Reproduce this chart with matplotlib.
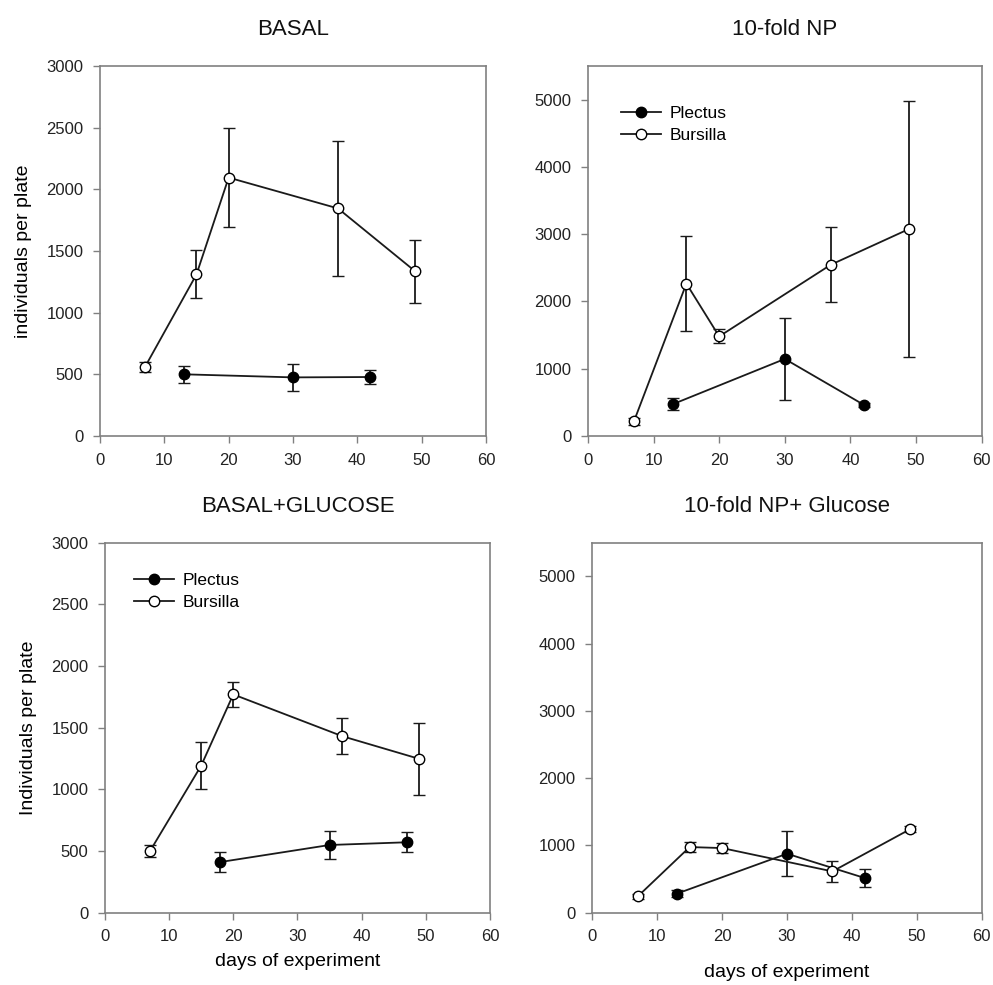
import matplotlib
matplotlib.use("Agg")
import matplotlib.pyplot as plt

plt.rcParams['font.family'] = ['Liberation Sans', 'DejaVu Sans']

# sampling days
days_bursilla = [7, 15, 20, 37, 49]
days_plectus = [13, 30, 42]
days_plectus_glu = [18, 35, 47]

# BASAL
basal_burs = [560, 1310, 2095, 1845, 1335]
basal_burs_err = [40, 195, 400, 545, 255]
basal_plec = [500, 475, 478]
basal_plec_err = [70, 107, 55]

# 10-fold NP
np_burs = [215, 2265, 1480, 2545, 3080]
np_burs_err = [50, 710, 105, 560, 1900]
np_plec = [475, 1145, 465]
np_plec_err = [90, 605, 30]

# BASAL+GLUCOSE
glu_burs = [498, 1193, 1770, 1431, 1247]
glu_burs_err = [50, 190, 100, 145, 295]
glu_plec = [411, 549, 571]
glu_plec_err = [80, 115, 80]

# 10-fold NP+ Glucose
npglu_burs = [242, 976, 961, 614, 1243]
npglu_burs_err = [40, 75, 80, 155, 40]
npglu_plec = [282, 877, 515]
npglu_plec_err = [50, 335, 135]

spine_col = '#808080'
line_col = '#1a1a1a'


def panel(ax, title, xp, yp, ep, xb, yb, eb, ymax, ystep):
    ax.errorbar(xp, yp, yerr=ep, color=line_col, lw=1.3, marker='o', ms=7.5,
                mfc='black', mec='black', mew=1, capsize=4.5, elinewidth=1.3,
                capthick=1.3, label='Plectus', zorder=3)
    ax.errorbar(xb, yb, yerr=eb, color=line_col, lw=1.3, marker='o', ms=7.5,
                mfc='white', mec='black', mew=1, capsize=4.5, elinewidth=1.3,
                capthick=1.3, label='Bursilla', zorder=3)
    ax.set_xlim(0, 60)
    ax.set_ylim(0, ymax)
    ax.set_xticks(range(0, 61, 10))
    ax.set_yticks(range(0, int(ymax) + 1, ystep))
    for s in ax.spines.values():
        s.set_color(spine_col)
        s.set_linewidth(1.2)
    ax.tick_params(direction='out', length=5, width=1, color=spine_col,
                   labelsize=12, labelcolor='#222222', pad=7)
    ax.set_title(title, fontsize=16, pad=22, color='#111111')


fig = plt.figure(figsize=(9.93, 9.85), dpi=100)
ax1 = fig.add_axes([0.1007, 0.5574, 0.3887, 0.3756])
ax2 = fig.add_axes([0.5921, 0.5574, 0.3965, 0.3756])
ax3 = fig.add_axes([0.1057, 0.0734, 0.3877, 0.3756])
ax4 = fig.add_axes([0.5965, 0.0734, 0.3921, 0.3756])

panel(ax1, 'BASAL', days_plectus, basal_plec, basal_plec_err,
      days_bursilla, basal_burs, basal_burs_err, 3000, 500)
panel(ax2, '10-fold NP', days_plectus, np_plec, np_plec_err,
      days_bursilla, np_burs, np_burs_err, 5500, 1000)
panel(ax3, 'BASAL+GLUCOSE', days_plectus_glu, glu_plec, glu_plec_err,
      days_bursilla, glu_burs, glu_burs_err, 3000, 500)
panel(ax4, '10-fold NP+ Glucose', days_plectus, npglu_plec, npglu_plec_err,
      days_bursilla, npglu_burs, npglu_burs_err, 5500, 1000)

ax1.set_ylabel('individuals per plate', fontsize=14, labelpad=10)
ax3.set_ylabel('Individuals per plate', fontsize=14, labelpad=10)
ax3.set_xlabel('days of experiment', fontsize=14, labelpad=6)
ax4.set_xlabel('days of experiment', fontsize=14, labelpad=14)

for ax, anchor in ((ax2, (0.045, 0.935)), (ax3, (0.035, 0.96))):
    h, l = ax.get_legend_handles_labels()
    h = [x[0] for x in h]
    ax.legend(h, l, loc='upper left', frameon=False, fontsize=12.5,
              handlelength=2.3, handletextpad=0.5, labelspacing=0.4,
              bbox_to_anchor=anchor)

fig.savefig('out.png', dpi=100)
